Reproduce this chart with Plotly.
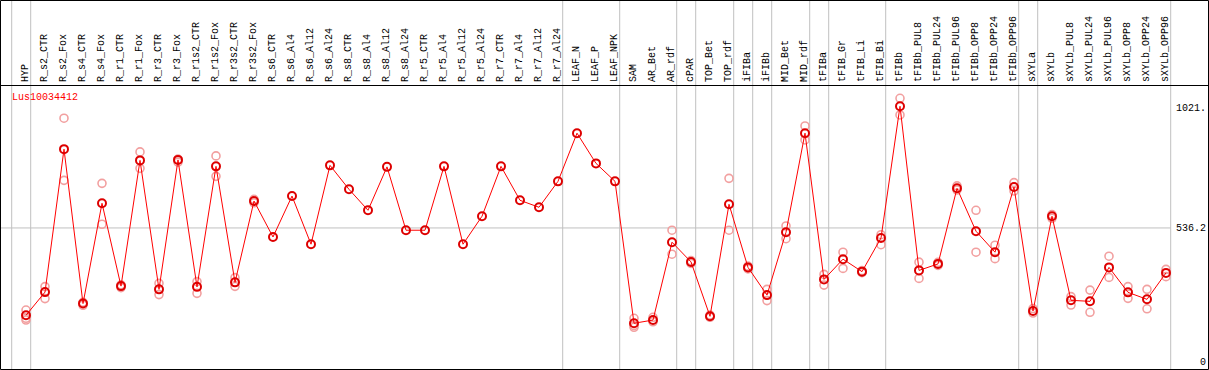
import plotly.graph_objects as go

categories = ["HYP", "R_s2_CTR", "R_s2_Fox", "R_s4_CTR", "R_s4_Fox", "R_r1_CTR", "R_r1_Fox",
              "R_r3_CTR", "R_r3_Fox", "R_r1s2_CTR", "R_r1s2_Fox", "R_r3s2_CTR", "R_r3s2_Fox",
              "R_s6_CTR", "R_s6_Al4", "R_s6_Al12", "R_s6_Al24", "R_s8_CTR", "R_s8_Al4",
              "R_s8_Al12", "R_s8_Al24", "R_r5_CTR", "R_r5_Al4", "R_r5_Al12", "R_r5_Al24",
              "R_r7_CTR", "R_r7_Al4", "R_r7_Al12", "R_r7_Al24", "LEAF_N", "LEAF_P", "LEAF_NPK",
              "SAM", "AR_Bet", "AR_rdf", "cPAR", "TOP_Bet", "TOP_rdf", "iFIBa", "iFIBb",
              "MID_Bet", "MID_rdf", "tFIBa", "tFIB_Gr", "tFIB_Li", "tFIB_Bi", "tFIBb",
              "tFIBb_PUL8", "tFIBb_PUL24", "tFIBb_PUL96", "tFIBb_OPP8", "tFIBb_OPP24",
              "tFIBb_OPP96", "sXYLa", "sXYLb", "sXYLb_PUL8", "sXYLb_PUL24", "sXYLb_PUL96",
              "sXYLb_OPP8", "sXYLb_OPP24", "sXYLb_OPP96"]

mean_values = [186, 279, 852, 233, 635, 303, 807, 290, 809, 300, 783, 318, 644,
               500, 664, 471, 787, 691, 607, 781, 527, 527, 783, 471, 583, 783, 647, 619, 723,
               916, 795, 723,
               154, 167, 479, 400, 182, 631, 378, 267, 519, 916, 330, 411, 361, 496, 1024,
               366, 392, 695, 523, 439, 700, 203, 583, 246, 242, 378, 278, 250, 356]

replicate_values = [
    [207, 174, 167], [301, 253], [976, 727], [238, 226], [715, 551], [308, 297],
    [841, 775], [314, 269], [812, 800], [321, 274], [825, 743], [337, 302], [651, 637],
    [], [], [], [], [], [], [], [], [], [], [], [], [], [], [], [], [], [], [],
    [174, 145, 138], [178, 160], [527, 431], [405, 394], [187, 178], [735, 527],
    [383, 372], [290, 245], [544, 493], [945, 889], [350, 307], [439, 374], [365, 357],
    [509, 469], [1056, 989], [399, 334], [398, 386], [705, 688], [607, 439], [467, 413],
    [718, 684], [213, 195], [590, 575], [261, 227], [287, 198], [423, 338], [301, 254],
    [290, 212], [370, 341],
]

# group separators drawn after these category indices (-1 = before first)
separator_after = [-1, 0, 28, 31, 34, 35, 37, 38, 39, 41, 42, 45, 52, 53, 60]

tick_vals = [0, 536.2, 1021]
tick_text = ["0", "536.2", "1021."]
gene_name = "Lus10034412"

W, H = 1209, 370
FONT = "Liberation Mono"
# pixel geometry: category i at pixel 26 + 19*i; value 0 at y=361.7, 1021 at y=107
x0 = -26 / 19
x1 = (W - 26) / 19
ppu = (361.7 - 107) / 1021
y0 = -(H - 361.7) / ppu
y1 = 361.7 / ppu


def px(p):
    return p / W


def py(p):
    return 1 - p / H


xs = list(range(len(categories)))
rep_x, rep_y = [], []
for i, reps in enumerate(replicate_values):
    for v in reps:
        rep_x.append(i)
        rep_y.append(v)

fig = go.Figure()
fig.add_trace(go.Scatter(x=rep_x, y=rep_y, mode="markers",
                         marker=dict(symbol="circle-open", size=8, color="#f2a0a0",
                                     line=dict(width=1.6, color="#f2a0a0")),
                         hoverinfo="skip", showlegend=False))
fig.add_trace(go.Scatter(x=xs, y=mean_values, mode="lines+markers",
                         line=dict(color="#ff0000", width=1),
                         marker=dict(symbol="circle-open", size=8, color="#dd0000",
                                     line=dict(width=2, color="#dd0000")),
                         showlegend=False))

shapes = []
for s in separator_after:
    xv = s + 0.247
    shapes.append(dict(type="line", xref="x", yref="paper", x0=xv, x1=xv, y0=0, y1=1,
                       line=dict(color="#c0c0c0", width=1), layer="below"))
# horizontal grid line at middle tick
shapes.append(dict(type="line", xref="x", yref="y", x0=x0, x1=separator_after[-1] + 0.247,
                   y0=tick_vals[1], y1=tick_vals[1],
                   line=dict(color="#c0c0c0", width=1), layer="below"))
# frame and header separator
shapes.append(dict(type="rect", xref="paper", yref="paper", x0=px(0.5), x1=px(1208.5),
                   y0=py(369.5), y1=py(0.5), line=dict(color="black", width=1)))
shapes.append(dict(type="line", xref="paper", yref="paper", x0=px(0.5), x1=px(1208.5),
                   y0=py(85.5), y1=py(85.5), line=dict(color="black", width=1)))

annotations = []
for i, c in enumerate(categories):
    annotations.append(dict(x=i - 1 / 19, y=py(84), xref="x", yref="paper", text=c,
                            textangle=-90, showarrow=False, xanchor="center", yanchor="bottom",
                            font=dict(family=FONT, size=10, color="black")))
annotations.append(dict(x=px(10), y=py(97), xref="paper", yref="paper", text=gene_name,
                        showarrow=False, xanchor="left", yanchor="middle",
                        font=dict(family=FONT, size=10, color="red")))

fig.update_layout(
    width=W, height=H, margin=dict(l=0, r=0, t=0, b=0),
    paper_bgcolor="white", plot_bgcolor="white",
    xaxis=dict(range=[x0, x1], showgrid=False, zeroline=False, showticklabels=False,
               showline=False, fixedrange=True),
    yaxis=dict(range=[y0, y1], showgrid=False, zeroline=False, side="right",
               tickvals=tick_vals, ticktext=tick_text, ticklabelposition="inside",
               ticks="", showline=False,
               tickfont=dict(family=FONT, size=10, color="black")),
    shapes=shapes, annotations=annotations,
)

fig.write_html("out.html", config={"responsive": False, "displayModeBar": False},
               post_script="document.body.style.margin='0';document.body.style.overflow='hidden';")
